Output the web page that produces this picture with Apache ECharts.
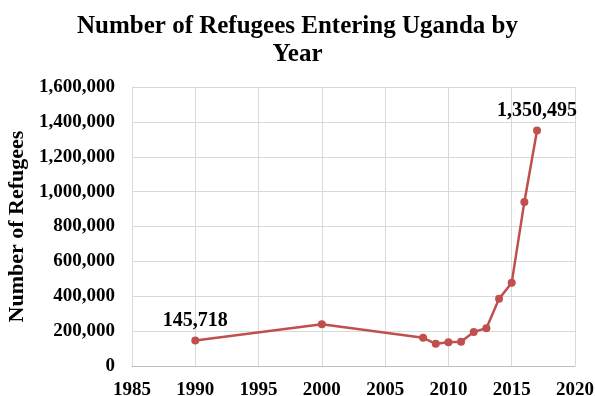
<!DOCTYPE html>
<html>
<head>
<meta charset="utf-8">
<script src="https://cdn.jsdelivr.net/npm/echarts@6/dist/echarts.min.js"></script>
<style>
  html, body { margin: 0; padding: 0; background: #fff; }
  #chart { width: 595px; height: 396px; }
</style>
</head>
<body>
<div id="chart"></div>
<script>
// Refugee arrivals in Uganda by year
const years = [1990, 2000, 2008, 2009, 2010, 2011, 2012, 2013, 2014, 2015, 2016, 2017];
const refugees = [145718, 240000, 162000, 127000, 136000, 139000, 195000, 217000, 385000, 478000, 941000, 1350495];
// Points whose value is written next to the marker
const labelledYears = [1990, 2017];

const serif = '"Liberation Serif", "Times New Roman", serif';
const seriesData = years.map((y, i) => ({
  value: [y, refugees[i]],
  label: { show: labelledYears.includes(y) }
}));

const chart = echarts.init(document.getElementById('chart'));
chart.setOption({
  animation: false,
  title: {
    text: 'Number of Refugees Entering Uganda by\nYear',
    left: 'center',
    top: 8,
    textStyle: { fontFamily: serif, fontWeight: 'bold', fontSize: 25, lineHeight: 28, color: '#000' }
  },
  grid: { left: 132, right: 20, top: 87, bottom: 30, outerBoundsMode: 'none', containLabel: false },
  xAxis: {
    type: 'value', min: 1985, max: 2020, interval: 5,
    axisLine: { show: true, lineStyle: { color: '#bfbfbf', width: 1 } },
    axisTick: { show: false },
    splitLine: { show: true, lineStyle: { color: '#d9d9d9', width: 1 } },
    axisLabel: { fontFamily: serif, fontWeight: 'bold', fontSize: 19, color: '#000', margin: 15,
      formatter: v => String(v) }
  },
  yAxis: {
    type: 'value', min: 0, max: 1600000, interval: 200000,
    name: 'Number of Refugees', nameLocation: 'middle', nameGap: 100,
    nameTextStyle: { fontFamily: serif, fontWeight: 'bold', fontSize: 22, color: '#000' },
    axisLine: { show: true, lineStyle: { color: '#d9d9d9', width: 1 } },
    axisTick: { show: false },
    splitLine: { show: true, lineStyle: { color: '#d9d9d9', width: 1 } },
    axisLabel: {
      fontFamily: serif, fontWeight: 'bold', fontSize: 19, color: '#000', margin: 17,
      formatter: v => v.toLocaleString('en-US')
    }
  },
  series: [{
    type: 'line',
    data: seriesData,
    symbol: 'circle', symbolSize: 8,
    lineStyle: { color: '#C0504D', width: 2.5 },
    itemStyle: { color: '#C0504D' },
    label: {
      position: 'top', distance: 6,
      fontFamily: serif, fontWeight: 'bold', fontSize: 20, color: '#000',
      formatter: p => p.value[1].toLocaleString('en-US')
    }
  }]
});
</script>
</body>
</html>
